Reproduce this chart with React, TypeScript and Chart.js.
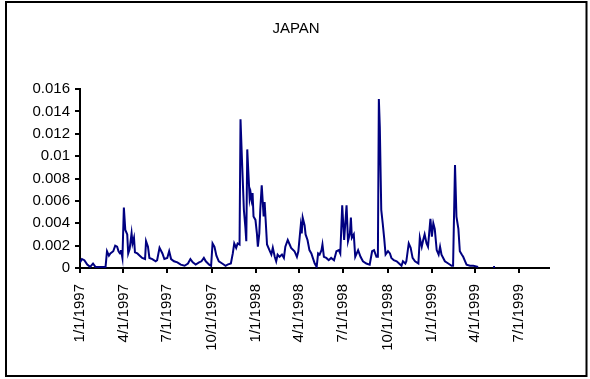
import React, { useEffect, useRef } from "react";
import { Chart, registerables } from "chart.js";

Chart.register(...registerables);

// Days since 1 Jan 1997 for each vertex of the series
const days: number[] = [
  0, 4, 9, 15, 21, 27, 32, 53, 56, 60, 63, 69, 73, 77, 80, 83, 85, 88, 91, 94,
  98, 100, 103, 107, 109, 112, 114, 119, 124, 129, 135, 137, 141, 144, 150, 157, 160, 165, 171, 175,
  181, 185, 189, 195, 202, 209, 217, 224, 229, 234, 240, 247, 252, 257, 261, 268, 272, 275, 279, 283,
  288, 295, 302, 306, 313, 317, 320, 324, 327, 331, 333, 336, 340, 343, 345, 347, 349, 352, 354, 356,
  358, 360, 364, 367, 369, 372, 374, 377, 381, 383, 385, 388, 393, 397, 400, 404, 407, 410, 414, 419,
  423, 426, 431, 435, 438, 445, 450, 453, 458, 460, 462, 466, 468, 472, 476, 480, 483, 487, 491, 494,
  497, 501, 503, 506, 511, 516, 521, 527, 532, 537, 540, 544, 548, 553, 556, 560, 562, 564, 568, 571,
  577, 582, 587, 594, 601, 606, 610, 615, 618, 620, 622, 625, 628, 631, 634, 639, 643, 646, 651, 657,
  662, 667, 670, 675, 677, 682, 686, 690, 695, 702, 705, 709, 712, 715, 719, 722, 727, 730, 733, 736,
  740, 744, 747, 750, 757, 764, 771, 774, 778, 781, 785, 788, 792, 795, 799, 802, 809, 816, 826, 840,
  857, 861,
];

// Series values (null = gap)
const japan: (number | null)[] = [
  0.0005, 0.0008, 0.0007, 0.0003, 0.0001, 0.0004, 0.0001, 0.0001, 0.0015, 0.0011, 0.0013, 0.0015, 0.002, 0.0019, 0.0015, 0.0013, 0.0016, 0.0009, 0.0054, 0.0034,
  0.003, 0.0013, 0.0017, 0.0031, 0.0022, 0.0027, 0.0014, 0.0013, 0.0011, 0.0009, 0.0008, 0.0024, 0.0019, 0.0009, 0.0008, 0.0006, 0.0007, 0.0018, 0.0013, 0.0008,
  0.0009, 0.0015, 0.0008, 0.0006, 0.0005, 0.0003, 0.0002, 0.0004, 0.0008, 0.0005, 0.0003, 0.0005, 0.0006, 0.0009, 0.0006, 0.0003, 0.0002, 0.0022, 0.0019, 0.0011,
  0.0006, 0.0004, 0.0002, 0.0003, 0.0004, 0.0013, 0.0022, 0.0018, 0.0022, 0.0021, 0.0133, 0.0097, 0.0052, 0.0037, 0.0024, 0.0106, 0.0088, 0.0062, 0.0067, 0.0061,
  0.0067, 0.0046, 0.0043, 0.0031, 0.0019, 0.0031, 0.0052, 0.0074, 0.0046, 0.0059, 0.0044, 0.0021, 0.0016, 0.0012, 0.0018, 0.001, 0.0006, 0.0012, 0.001, 0.0012,
  0.0009, 0.0019, 0.0025, 0.0021, 0.0018, 0.0015, 0.001, 0.0015, 0.0038, 0.0031, 0.0045, 0.0038, 0.003, 0.0025, 0.0016, 0.0013, 0.0009, 0.0004, 0.0001, 0.0013,
  0.0012, 0.0016, 0.0021, 0.001, 0.0009, 0.0007, 0.0009, 0.0007, 0.0015, 0.0016, 0.0013, 0.0056, 0.0025, 0.0056, 0.0024, 0.0031, 0.0045, 0.0027, 0.003, 0.001,
  0.0016, 0.001, 0.0006, 0.0004, 0.0003, 0.0015, 0.0016, 0.001, 0.001, 0.0151, 0.0126, 0.0052, 0.004, 0.0027, 0.0012, 0.0015, 0.0013, 0.0009, 0.0007, 0.0006,
  0.0004, 0.0002, 0.0006, 0.0004, 0.0006, 0.0022, 0.0018, 0.0009, 0.0006, 0.0004, 0.0027, 0.0019, 0.0025, 0.003, 0.0022, 0.0019, 0.0044, 0.0028, 0.004, 0.0035,
  0.0016, 0.0012, 0.0019, 0.0012, 0.0006, 0.0004, 0.0002, 0.0002, 0.0092, 0.0046, 0.0035, 0.0015, 0.0012, 0.001, 0.0006, 0.0003, 0.0002, 0.0002, 0.0001, null,
  0.0001, 0.0001,
];

const xTickDays: number[] = [0, 90, 181, 273, 365, 455, 546, 638, 730, 820, 911];
const xTickLabels: string[] = [
  "1/1/1997", "4/1/1997", "7/1/1997", "10/1/1997", "1/1/1998", "4/1/1998",
  "7/1/1998", "10/1/1998", "1/1/1999", "4/1/1999", "7/1/1999",
];
const yTicks: number[] = [0, 0.002, 0.004, 0.006, 0.008, 0.01, 0.012, 0.014, 0.016];
const titleText = "JAPAN";

const FONT = "'Liberation Sans', Arial, sans-serif";

export default function App() {
  const ref = useRef<HTMLCanvasElement | null>(null);

  useEffect(() => {
    if (!ref.current) return;
    const frame = {
      id: "frame",
      beforeDraw(chart: any) {
        const ctx = chart.ctx;
        ctx.save();
        ctx.fillStyle = "#ffffff";
        ctx.fillRect(0, 0, chart.width, chart.height);
        ctx.strokeStyle = "#000000";
        ctx.lineWidth = 2;
        ctx.strokeRect(6, 2, 580.5, 374);
        ctx.fillStyle = "#000000";
        ctx.font = `15px ${FONT}`;
        ctx.textAlign = "center";
        ctx.textBaseline = "middle";
        ctx.fillText(titleText, 296, 29);
        ctx.restore();
      },
    };
    const chart = new Chart(ref.current, {
      type: "line",
      data: {
        datasets: [
          {
            label: titleText,
            data: days.map((d, i) => ({ x: d, y: japan[i] })) as any,
            borderColor: "#000080",
            backgroundColor: "#000080",
            borderWidth: 2,
            pointRadius: 0,
            tension: 0,
            spanGaps: false,
          },
        ],
      },
      options: {
        animation: false,
        responsive: false,
        devicePixelRatio: 1,
        layout: { padding: { left: 0, right: 41, top: 89, bottom: 0 } },
        plugins: {
          legend: { display: false },
          title: { display: false },
          tooltip: { enabled: false },
        },
        scales: {
          x: {
            type: "linear",
            min: 0,
            max: 973,
            afterBuildTicks(scale: any) {
              scale.ticks = xTickDays.map((v) => ({ value: v }));
            },
            afterFit(scale: any) {
              scale.height = 111;
            },
            ticks: {
              autoSkip: false,
              minRotation: 90,
              maxRotation: 90,
              padding: 11,
              color: "#000",
              font: { family: FONT, size: 15 },
              callback: (_v: any, i: number) => xTickLabels[i],
            },
            grid: {
              drawOnChartArea: false,
              drawTicks: true,
              tickLength: 5,
              color: "#000",
              lineWidth: 2,
            },
            border: { display: true, color: "#000", width: 2 },
          },
          y: {
            type: "linear",
            min: 0,
            max: 0.016,
            afterBuildTicks(scale: any) {
              scale.ticks = yTicks.map((v) => ({ value: v }));
            },
            afterFit(scale: any) {
              scale.width = 80;
            },
            ticks: {
              padding: 5,
              color: "#000",
              font: { family: FONT, size: 15 },
              callback: (v: any) => String(parseFloat(Number(v).toFixed(3))),
            },
            grid: {
              drawOnChartArea: false,
              drawTicks: true,
              tickLength: 5,
              color: "#000",
              lineWidth: 2,
            },
            border: { display: true, color: "#000", width: 2 },
          },
        },
      },
      plugins: [frame],
    });
    return () => chart.destroy();
  }, []);

  return (
    <div style={{ position: "absolute", left: 0, top: 0, width: 590, height: 379 }}>
      <canvas ref={ref} width={590} height={379} style={{ display: "block", width: 590, height: 379 }} />
    </div>
  );
}
